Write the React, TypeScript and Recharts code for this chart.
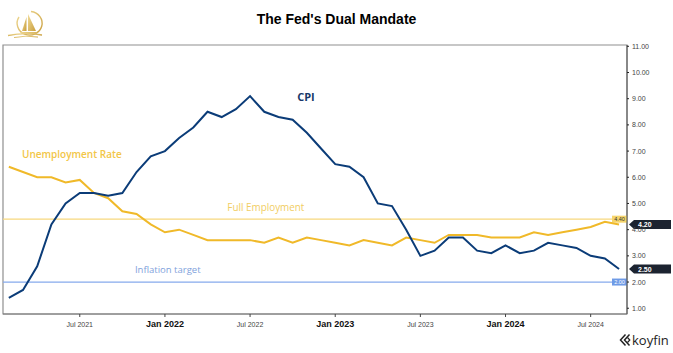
import { LineChart, Line, XAxis, YAxis, ReferenceLine, ReferenceDot, ReferenceArea } from 'recharts';

// monthly observations, plotted at month end
const MONTHS = [
  'Jan 2021', 'Feb 2021', 'Mar 2021', 'Apr 2021', 'May 2021', 'Jun 2021',
  'Jul 2021', 'Aug 2021', 'Sep 2021', 'Oct 2021', 'Nov 2021', 'Dec 2021',
  'Jan 2022', 'Feb 2022', 'Mar 2022', 'Apr 2022', 'May 2022', 'Jun 2022',
  'Jul 2022', 'Aug 2022', 'Sep 2022', 'Oct 2022', 'Nov 2022', 'Dec 2022',
  'Jan 2023', 'Feb 2023', 'Mar 2023', 'Apr 2023', 'May 2023', 'Jun 2023',
  'Jul 2023', 'Aug 2023', 'Sep 2023', 'Oct 2023', 'Nov 2023', 'Dec 2023',
  'Jan 2024', 'Feb 2024', 'Mar 2024', 'Apr 2024', 'May 2024', 'Jun 2024',
  'Jul 2024', 'Aug 2024',
];

const CPI = [
  1.4, 1.7, 2.6, 4.2, 5.0, 5.4, 5.4, 5.3, 5.4, 6.2, 6.8, 7.0,
  7.5, 7.9, 8.5, 8.3, 8.6, 9.1, 8.5, 8.3, 8.2, 7.7, 7.1, 6.5,
  6.4, 6.0, 5.0, 4.9, 4.0, 3.0, 3.2, 3.7, 3.7, 3.2, 3.1, 3.4,
  3.1, 3.2, 3.5, 3.4, 3.3, 3.0, 2.9, 2.5,
];

const UNEMPLOYMENT = [
  6.4, 6.2, 6.0, 6.0, 5.8, 5.9, 5.4, 5.2, 4.7, 4.6, 4.2, 3.9,
  4.0, 3.8, 3.6, 3.6, 3.6, 3.6, 3.5, 3.7, 3.5, 3.7, 3.6, 3.5,
  3.4, 3.6, 3.5, 3.4, 3.7, 3.6, 3.5, 3.8, 3.8, 3.8, 3.7, 3.7,
  3.7, 3.9, 3.8, 3.9, 4.0, 4.1, 4.3, 4.2,
];

const TICK_LABELS = ['Jul 2021', 'Jan 2022', 'Jul 2022', 'Jan 2023', 'Jul 2023', 'Jan 2024', 'Jul 2024'];
const Y_TICKS = [1, 2, 3, 4, 5, 6, 7, 8, 9, 10, 11];

const FULL_EMPLOYMENT = 4.4;
const INFLATION_TARGET = 2.0;

const data = MONTHS.map((m, i) => ({ month: m, t: i + 1, cpi: CPI[i], unemp: UNEMPLOYMENT[i] }));
const xTicks = TICK_LABELS.map((l) => MONTHS.indexOf(l));

const X_DOMAIN: [number, number] = [0.59, 44.56];
const Y_DOMAIN: [number, number] = [0.78, 11.05];

const CPI_COLOR = '#0b3c78';
const UNEMP_COLOR = '#f0b929';
const AXIS_FONT = '"Liberation Sans", Arial, sans-serif';
const NOTE_FONT = '"Open Sans", sans-serif';

const XTick = ({ x, y, payload }: any) => {
  const label = MONTHS[payload.value];
  const isJan = label.startsWith('Jan');
  return (
    <text x={x} y={y + 8} textAnchor="middle" fontFamily={AXIS_FONT}
      fontSize={isJan ? 9 : 7} fontWeight={isJan ? 700 : 400} fill={isJan ? '#111' : '#444'}>
      {label}
    </text>
  );
};

const LineBadge = ({ viewBox, text, bg, color }: any) => {
  const right = viewBox.x + viewBox.width;
  return (
    <g>
      <rect x={right - 15} y={viewBox.y - 3.5} width={15} height={7} fill={bg} />
      <text x={right - 7.5} y={viewBox.y + 0.3} textAnchor="middle" dominantBaseline="central"
        fontFamily={AXIS_FONT} fontSize={5.5} fill={color}>{text}</text>
    </g>
  );
};

const LastBadge = ({ cx, cy, value }: any) => (
  <g>
    <path d={`M ${cx + 2} ${cy} L ${cx + 7} ${cy - 4.5} L ${cx + 44} ${cy - 4.5} L ${cx + 44} ${cy + 4.5} L ${cx + 7} ${cy + 4.5} Z`}
      fill="#1c2330" />
    <text x={cx + 11} y={cy + 0.3} dominantBaseline="central" fontFamily={AXIS_FONT}
      fontSize={7} fontWeight={700} fill="#fff">{value.toFixed(2)}</text>
  </g>
);

const Note = ({ cx, cy, text, color, size, weight, anchor }: any) => (
  <text x={cx} y={cy} textAnchor={anchor} dominantBaseline="central" fontFamily={NOTE_FONT}
    fontSize={size} fontWeight={weight} fill={color}>{text}</text>
);

const Logo = () => (
  <svg width={44} height={40} style={{ position: 'absolute', left: 6, top: 2 }}>
    <defs>
      <linearGradient id="gold" x1="0" y1="0" x2="1" y2="1">
        <stop offset="0%" stopColor="#f1dc98" />
        <stop offset="100%" stopColor="#c89d3c" />
      </linearGradient>
    </defs>
    <path d="M 25 9.5 A 12.5 11.8 0 1 1 13 15" stroke="url(#gold)" strokeWidth={1.4} fill="none" />
    <path d="M 22 12 L 22 29 L 30 29 Z" fill="url(#gold)" />
    <path d="M 20.5 15 L 20.5 29 L 16 29 Z" fill="url(#gold)" />
    <path d="M 14 30 L 32 30 L 29.5 32 L 16 32 Z" fill="url(#gold)" />
    <path d="M 2 33.5 Q 18 30 36 33" stroke="url(#gold)" strokeWidth={1.4} fill="none" />
    <path d="M 8 35.5 Q 20 33 32 35" stroke="url(#gold)" strokeWidth={1} fill="none" />
  </svg>
);

const Koyfin = () => (
  <div style={{ position: 'absolute', left: 619, top: 333, display: 'flex', alignItems: 'center' }}>
    <svg width={12} height={14}>
      <path d="M 6.5 1.5 L 1.5 7 L 6.5 12.5" stroke="#222" strokeWidth={1.5} fill="none" />
      <path d="M 10.5 1.5 L 5.5 7 L 10.5 12.5" stroke="#222" strokeWidth={1.5} fill="none" />
      <path d="M 8.5 4.5 L 10.8 7 L 8.5 9.5" stroke="#222" strokeWidth={1.2} fill="none" />
    </svg>
    <span style={{ fontFamily: '"Open Sans", sans-serif', fontSize: 13, color: '#222', marginLeft: 1, lineHeight: '14px' }}>koyfin</span>
  </div>
);

export default function App() {
  return (
    <div style={{ position: 'absolute', left: 0, top: 0, width: 673, height: 353, background: '#fff', overflow: 'hidden' }}>
      <Logo />
      <div style={{ position: 'absolute', left: 0, top: 11, width: 673, textAlign: 'center',
        fontFamily: AXIS_FONT, fontWeight: 700, fontSize: 14, color: '#000' }}>
        The Fed's Dual Mandate
      </div>
      <Koyfin />
      <LineChart width={673} height={353} data={data}
        margin={{ top: 45, right: 0, bottom: 9, left: 3 }}
        style={{ position: 'absolute', left: 0, top: 0 }}>
        <XAxis type="number" dataKey="t" domain={X_DOMAIN} ticks={xTicks} allowDataOverflow
          height={30} tick={<XTick />} tickSize={3} tickLine={{ stroke: '#444' }}
          axisLine={{ stroke: '#777' }} />
        <YAxis type="number" orientation="right" domain={Y_DOMAIN} ticks={Y_TICKS} allowDataOverflow
          width={46} tickFormatter={(v: number) => v.toFixed(2)} tickSize={2} tickMargin={3}
          tick={{ fontSize: 7, fill: '#444', fontFamily: AXIS_FONT }}
          tickLine={{ stroke: '#222' }} axisLine={{ stroke: '#555' }} />
        <ReferenceArea x1={X_DOMAIN[0]} x2={X_DOMAIN[1]} y1={Y_DOMAIN[0]} y2={Y_DOMAIN[1]}
          fill="none" fillOpacity={0} stroke="#8f8f8f" strokeWidth={1.2} />
        <ReferenceLine y={FULL_EMPLOYMENT} stroke="#f7d87e" strokeWidth={1.2}
          label={<LineBadge text={FULL_EMPLOYMENT.toFixed(2)} bg="#f6d56c" color="#333" />} />
        <ReferenceLine y={INFLATION_TARGET} stroke="#86aaec" strokeWidth={1.2}
          label={<LineBadge text={INFLATION_TARGET.toFixed(2)} bg="#6f9be6" color="#fff" />} />
        <Line type="linear" dataKey="unemp" stroke={UNEMP_COLOR} strokeWidth={2} dot={false} isAnimationActive={false} />
        <Line type="linear" dataKey="cpi" stroke={CPI_COLOR} strokeWidth={2} dot={false} isAnimationActive={false} />
        <ReferenceDot x={21.94} y={9.08} r={0}
          shape={(p: any) => <Note {...p} text="CPI" color="#17386a" size={11} weight={700} anchor="middle" />} />
        <ReferenceDot x={1.93} y={6.9} r={0}
          shape={(p: any) => <Note {...p} text="Unemployment Rate" color="#f2c647" size={10} weight={600} anchor="start" />} />
        <ReferenceDot x={16.4} y={4.87} r={0}
          shape={(p: any) => <Note {...p} text="Full Employment" color="#f1cd62" size={9.9} weight={400} anchor="start" />} />
        <ReferenceDot x={9.89} y={2.46} r={0}
          shape={(p: any) => <Note {...p} text="Inflation target" color="#7fa2dc" size={9.5} weight={400} anchor="start" />} />
        <ReferenceDot x={X_DOMAIN[1]} y={UNEMPLOYMENT[UNEMPLOYMENT.length - 1]} r={0}
          shape={(p: any) => <LastBadge {...p} value={UNEMPLOYMENT[UNEMPLOYMENT.length - 1]} />} />
        <ReferenceDot x={X_DOMAIN[1]} y={CPI[CPI.length - 1]} r={0}
          shape={(p: any) => <LastBadge {...p} value={CPI[CPI.length - 1]} />} />
      </LineChart>
    </div>
  );
}
